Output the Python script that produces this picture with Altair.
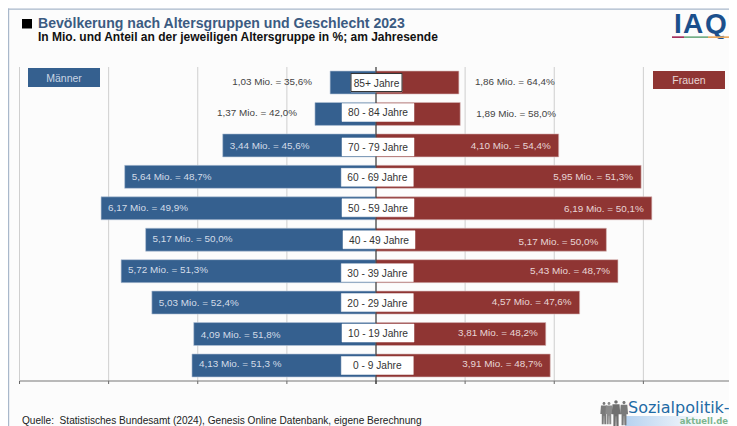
import altair as alt
import pandas as pd

# ---------- data ----------
ages = ["85+ Jahre", "80 - 84 Jahre", "70 - 79 Jahre", "60 - 69 Jahre", "50 - 59 Jahre",
        "40 - 49 Jahre", "30 - 39 Jahre", "20 - 29 Jahre", "10 - 19 Jahre", "0 - 9 Jahre"]
male = [1.03, 1.37, 3.44, 5.64, 6.17, 5.17, 5.72, 5.03, 4.09, 4.13]
female = [1.86, 1.89, 4.10, 5.95, 6.19, 5.17, 5.43, 4.57, 3.81, 3.91]
male_labels = ["1,03 Mio. = 35,6%", "1,37 Mio. = 42,0%", "3,44 Mio. = 45,6%", "5,64 Mio. = 48,7%",
               "6,17 Mio. = 49,9%", "5,17 Mio. = 50,0%", "5,72 Mio. = 51,3%", "5,03 Mio. = 52,4%",
               "4,09 Mio. = 51,8%", "4,13 Mio. = 51,3 %"]
female_labels = ["1,86 Mio. = 64,4%", "1,89 Mio. = 58,0%", "4,10 Mio. = 54,4%", "5,95 Mio. = 51,3%",
                 "6,19 Mio. = 50,1%", "5,17 Mio. = 50,0%", "5,43 Mio. = 48,7%", "4,57 Mio. = 47,6%",
                 "3,81 Mio. = 48,2%", "3,91 Mio. = 48,7%"]
grid_values = [-8, -6, -4, -2, 0, 2, 4, 6]

title = "Bevölkerung nach Altersgruppen und Geschlecht 2023"
subtitle = "In Mio. und Anteil an der jeweiligen Altersgruppe in %; am Jahresende"
source = "Quelle:\u00a0\u00a0Statistisches Bundesamt (2024), Genesis Online Datenbank, eigene Berechnung"

# ---------- layout and style ----------
W, H = 721, 418
U = 44.56
BLUE, RED = "#35608F", "#8F3533"
FONT = "Liberation Sans"
box_half = [25.5, 36, 36, 36, 36, 36, 36, 36, 36, 36]
box_mid = [376.5, 378, 378, 377.3, 378, 379, 377.3, 377.3, 378, 377.3]
box_dy = [0.5, -1.5, 1.5, 0.5, -0.5, 0, 1.5, 0, -1, 0]
box_text_dy = [1.5, -0.5, 2.5, 1.5, 0.5, 1, 2.5, 1, 0, 1]
male_dy = [-0.5, -0.5, 1, 0, 0, -1, -1, 0, 0.5, -1]
female_dy = [-0.5, 0, 1, 0.5, 0.5, 2, 0, -1, -1.5, -1]


def unit(px):
    return (px - 376) / U


x_scale = alt.Scale(domain=[unit(8), unit(729)], range=[0, W], zero=False, nice=False)
y_scale = alt.Scale(domain=ages, range=[58.8, 373.2], paddingInner=0.27, paddingOuter=0.135)
X = alt.X("x:Q", scale=x_scale, axis=None)
Y = alt.Y("age:N", scale=y_scale, axis=None)

df = pd.DataFrame({
    "age": ages, "m": [-v for v in male], "f": female, "ml": male_labels, "fl": female_labels,
    "zero": [0] * 10,
    "mdy": male_dy, "fdy": female_dy, "bdy": box_dy, "tdy": box_text_dy,
    "bx1": [unit(m - h) for m, h in zip(box_mid, box_half)],
    "bx2": [unit(m + h) for m, h in zip(box_mid, box_half)],
    "bxm": [unit(m) for m in box_mid],
})
df["rank"] = range(10)
outer = df[df["rank"] < 2]
inner = df[df["rank"] >= 2]
grid = pd.DataFrame({"x": grid_values})


def deco_rect(x1, x2, y1, y2, color, **kw):
    return alt.Chart(pd.DataFrame({"a": [0]})).mark_rect(color=color, **kw).encode(
        x=alt.value(x1 - 8), x2=alt.value(x2 - 8), y=alt.value(y1 - 8), y2=alt.value(y2 - 8))


def deco_text(text, px, py, size, color, bold=False, align="left", font=FONT):
    return alt.Chart(pd.DataFrame({"t": [text]})).mark_text(
        align=align, baseline="alphabetic", fontSize=size, color=color, font=font,
        fontWeight="bold" if bold else "normal").encode(
        x=alt.value(px - 8), y=alt.value(py - 8), text="t:N")


def person(px, size, color):
    path = ("M-0.13,-0.85 A0.13,0.13 0 1 1 0.13,-0.85 A0.13,0.13 0 1 1 -0.13,-0.85 Z "
            "M-0.27,-0.68 L0.27,-0.68 L0.33,0.1 L0.2,0.1 L0.2,1 L0.03,1 L0.01,0.25 L-0.01,0.25 "
            "L-0.03,1 L-0.2,1 L-0.2,0.1 L-0.33,0.1 Z")
    return alt.Chart(pd.DataFrame({"a": [0]})).mark_point(
        shape=path, filled=True, color=color, opacity=1, size=size).encode(
        x=alt.value(px - 8), y=alt.value(413 - 8))


layers = [
    deco_rect(9, 729, 9, 426, "#FCFCFC"),
    deco_rect(8, 9.2, 8.5, 426, "#A9B8CB"),
    deco_rect(8, 729, 8.5, 9.7, "#A9B8CB"),
    # grid
    alt.Chart(grid).mark_rule(color="#CFCFCF", strokeWidth=1).encode(
        x=X, y=alt.value(59), y2=alt.value(373)),
    # bars
    alt.Chart(df).mark_bar(color=BLUE, stroke="#B5C4D6", strokeWidth=0.6).encode(
        x=alt.X("m:Q", scale=x_scale, axis=None), x2="zero:Q", y=Y),
    alt.Chart(df).mark_bar(color=RED, stroke="#D6B8B8", strokeWidth=0.6).encode(
        x=alt.X("f:Q", scale=x_scale, axis=None), x2="zero:Q", y=Y),
    # bottom axis
    alt.Chart(grid).mark_rule(color="#666666", strokeWidth=1).encode(
        x=X, y=alt.value(373), y2=alt.value(376)),
    alt.Chart(pd.DataFrame({"a": [0]})).mark_rule(color="#777777", strokeWidth=1.2).encode(
        x=alt.value(20 - 8), x2=alt.value(729 - 8), y=alt.value(373)),
    alt.Chart(pd.DataFrame({"x": [0]})).mark_rule(color="#222222", strokeWidth=1).encode(
        x=X, y=alt.value(59), y2=alt.value(376)),
    # age boxes
    alt.Chart(df).mark_rect(fill="white", height=18, yOffset=alt.expr("datum.bdy"),
                            stroke="white", strokeWidth=0.5).encode(
        x=alt.X("bx1:Q", scale=x_scale, axis=None), x2="bx2:Q", y=Y),
    alt.Chart(df[df["rank"] == 0]).mark_rect(fill="white", height=18, stroke="#333333", strokeWidth=1).encode(
        x=alt.X("bx1:Q", scale=x_scale, axis=None), x2="bx2:Q", y=Y),
    alt.Chart(df).mark_text(fontSize=10.2, font=FONT, color="#333333", dy=alt.expr("datum.tdy")).encode(
        x=alt.X("bxm:Q", scale=x_scale, axis=None), y=Y, text="age:N"),
    # value labels
    alt.Chart(outer).mark_text(fontSize=9.9, font=FONT, color="#444444", align="right", dx=-18,
                               dy=alt.expr("datum.mdy")).encode(
        x=alt.X("m:Q", scale=x_scale, axis=None), y=Y, text="ml:N"),
    alt.Chart(outer).mark_text(fontSize=9.9, font=FONT, color="#444444", align="left", dx=16,
                               dy=alt.expr("datum.fdy")).encode(
        x=alt.X("f:Q", scale=x_scale, axis=None), y=Y, text="fl:N"),
    alt.Chart(inner).mark_text(fontSize=9.9, font=FONT, color="#D3DCE8", align="left", dx=7,
                               dy=alt.expr("datum.mdy")).encode(
        x=alt.X("m:Q", scale=x_scale, axis=None), y=Y, text="ml:N"),
    alt.Chart(inner).mark_text(fontSize=9.9, font=FONT, color="#E8D6D6", align="right", dx=-8,
                               dy=alt.expr("datum.fdy")).encode(
        x=alt.X("f:Q", scale=x_scale, axis=None), y=Y, text="fl:N"),
    # legend boxes
    deco_rect(28, 100, 68, 87, BLUE),
    deco_text("Männer", 64, 81.5, 10.5, "#C9D5E4", align="center"),
    deco_rect(653, 725, 71, 89, RED),
    deco_text("Frauen", 689, 84, 10.5, "#E8D6D6", align="center"),
    # titles
    deco_rect(22, 32, 19, 28.5, "#000000"),
    deco_text(title, 38, 28, 14.1, "#3B5B82", bold=True),
    deco_text(subtitle, 38, 41, 12, "#111111", bold=True),
    deco_text(source, 22, 424, 10.1, "#222222"),
    # IAQ logo
    deco_text("I", 674, 33, 28, "#1B4F8C", bold=True),
    deco_text("A", 683, 33, 28, "#1B4F8C", bold=True),
    deco_text("Q", 705, 33, 28, "#1B4F8C", bold=True),
    deco_rect(672, 684, 36.3, 38, "#A5305C"),
    deco_rect(684, 708, 36.3, 38, "#74AE86"),
    deco_rect(708, 729, 36.3, 38, "#E8A860"),
    # Sozialpolitik logo
    alt.Chart(pd.DataFrame({"a": [0]})).mark_rect(
        color=alt.Gradient(gradient="linear", x1=0, x2=1, y1=0, y2=0,
                           stops=[alt.GradientStop(color="#B6D2F0", offset=0),
                                  alt.GradientStop(color="#FCFCFC", offset=1)])).encode(
        x=alt.value(625 - 8), x2=alt.value(705 - 8), y=alt.value(416 - 8), y2=alt.value(426 - 8)),
    person(604, 500, "#7A7A7A"),
    person(609, 500, "#8A8A8A"),
    person(616, 680, "#6F6F6F"),
    person(624, 600, "#7A7A7A"),
    deco_text("Sozialpolitik-", 628, 413, 16, "#1F6BA5", font="DejaVu Sans"),
    deco_text("aktuell.de", 728, 424, 8.5, "#7DB68F", bold=True, align="right", font="DejaVu Sans"),
]

chart = alt.layer(*layers).properties(
    width=W, height=H, padding=0, autosize=alt.AutoSizeParams(type="none"), background="white"
).configure_view(stroke=None)

chart.save("out.html", embed_options={"renderer": "svg", "actions": False})
